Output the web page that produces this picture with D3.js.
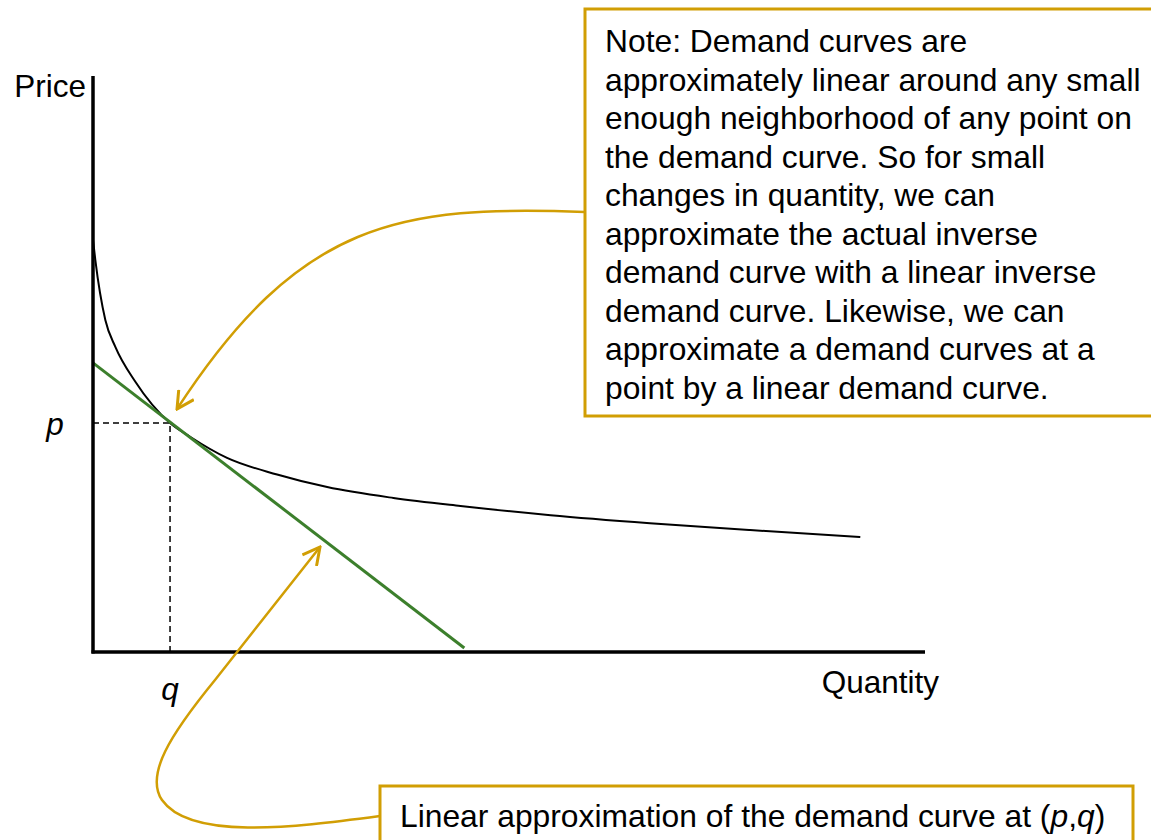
<!DOCTYPE html>
<html>
<head>
<meta charset="utf-8">
<script src="https://cdn.jsdelivr.net/npm/d3@7"></script>
<style>
  body { margin: 0; background: #fff; }
  svg text { font-family: "Liberation Sans", Arial, sans-serif; fill: #000; }
</style>
</head>
<body>
<div id="chart"></div>
<script>
var w = 1151; var h = 840;

// inverse demand curve (quantity, price)
var demandQ = [0, 0.03, 0.16, 0.29, 0.55, 1, 1.26, 1.74, 2.39, 3.04, 3.9, 4.77, 5.94, 7.23, 8.53, 9.96];
var demandP = [7.2, 6.85, 5.8, 5.33, 4.72, 4.0, 3.76, 3.39, 3.1, 2.88, 2.69, 2.55, 2.39, 2.25, 2.13, 2.01];

// tangent (linear approximation) end points
var lineQ = [0, 4.82];
var lineP = [5.05, 0.07];

// the point (q, p)
var pointQ = 1;
var pointP = 4;

var axisMaxQ = 10.8;
var axisMaxP = 10.06;

var noteLines = [
	'Note: Demand curves are',
	'approximately linear around any small',
	'enough neighborhood of any point on',
	'the demand curve. So for small',
	'changes in quantity, we can',
	'approximate the actual inverse',
	'demand curve with a linear inverse',
	'demand curve. Likewise, we can',
	'approximate a demand curves at a',
	'point by a linear demand curve.'
];

var gold = '#D19E04';
var green = '#3C7F2C';

var svg = d3.select('#chart')
			.append('svg')
			.attr('width', w)
			.attr('height', h);

var x = d3.scaleLinear().domain([0, axisMaxQ]).range([93, 925]);
var y = d3.scaleLinear().domain([0, axisMaxP]).range([652, 76]);

var defs = svg.append('defs');
defs.append('marker')
	.attr('id', 'vhead')
	.attr('viewBox', '-20 -10 22 20')
	.attr('refX', 0)
	.attr('refY', 0)
	.attr('markerWidth', 22)
	.attr('markerHeight', 20)
	.attr('markerUnits', 'userSpaceOnUse')
	.attr('orient', 'auto')
	.append('path')
	.attr('d', 'M-17,-9 L0,0 L-17,9')
	.attr('fill', 'none')
	.attr('stroke', gold)
	.attr('stroke-width', 3)
	.attr('stroke-linejoin', 'miter');

// dashed guides to the point
svg.append('path')
	.attr('d', 'M' + x(0) + ',' + y(pointP) + 'H' + x(pointQ) + 'V' + y(0))
	.attr('fill', 'none')
	.attr('stroke', '#000')
	.attr('stroke-width', 1.5)
	.attr('stroke-dasharray', '6,4');

// demand curve
var demand = demandQ.map(function(q, i) { return [q, demandP[i]]; });
var curveLine = d3.line()
				.x(function(d) { return x(d[0]); })
				.y(function(d) { return y(d[1]); })
				.curve(d3.curveMonotoneX);

svg.append('path')
	.attr('d', curveLine(demand))
	.attr('fill', 'none')
	.attr('stroke', '#000')
	.attr('stroke-width', 2);

// linear approximation
var tangent = lineQ.map(function(q, i) { return [q, lineP[i]]; });
svg.append('path')
	.attr('d', d3.line().x(function(d) { return x(d[0]); }).y(function(d) { return y(d[1]); })(tangent))
	.attr('fill', 'none')
	.attr('stroke', green)
	.attr('stroke-width', 3);

// axes
svg.append('line')
	.attr('x1', x(0)).attr('y1', y(0) + 1.5)
	.attr('x2', x(0)).attr('y2', y(axisMaxP))
	.attr('stroke', '#000').attr('stroke-width', 3.5);
svg.append('line')
	.attr('x1', x(0) - 1.5).attr('y1', y(0))
	.attr('x2', x(axisMaxQ)).attr('y2', y(0))
	.attr('stroke', '#000').attr('stroke-width', 3.5);

svg.append('text').attr('x', 86).attr('y', 97).attr('text-anchor', 'end')
	.style('font-size', '31.5px').text('Price');
svg.append('text').attr('x', 939).attr('y', 693).attr('text-anchor', 'end')
	.style('font-size', '31.5px').text('Quantity');
svg.append('text').attr('x', 55).attr('y', 435).attr('text-anchor', 'middle')
	.style('font-size', '31.5px').style('font-style', 'italic').text('p');
svg.append('text').attr('x', x(pointQ)).attr('y', 700).attr('text-anchor', 'middle')
	.style('font-size', '31.5px').style('font-style', 'italic').text('q');

// note box
svg.append('rect')
	.attr('x', 585).attr('y', 9)
	.attr('width', 580).attr('height', 407)
	.attr('fill', '#fff')
	.attr('stroke', gold).attr('stroke-width', 3);

var note = svg.append('text').style('font-size', '31.8px');
noteLines.forEach(function(t, i) {
	note.append('tspan').attr('x', 605).attr('y', 52 + i * 38.5).text(t);
});

// second box
svg.append('rect')
	.attr('x', 380).attr('y', 786)
	.attr('width', 753).attr('height', 80)
	.attr('fill', '#fff')
	.attr('stroke', gold).attr('stroke-width', 3);

var lab = svg.append('text').attr('x', 400).attr('y', 827).style('font-size', '31.8px');
lab.append('tspan').text('Linear approximation of the demand curve at (');
lab.append('tspan').style('font-style', 'italic').text('p');
lab.append('tspan').text(',');
lab.append('tspan').style('font-style', 'italic').text('q');
lab.append('tspan').text(')');

// callout arrows
svg.append('path')
	.attr('d', 'M585,212 C400,205 300,220 177,409')
	.attr('fill', 'none')
	.attr('stroke', gold)
	.attr('stroke-width', 2.5)
	.attr('marker-end', 'url(#vhead)');

svg.append('path')
	.attr('d', 'M380,816 C290,828 190,840 162,800 C145,775 170,735 215,680 L320,547')
	.attr('fill', 'none')
	.attr('stroke', gold)
	.attr('stroke-width', 2.5)
	.attr('marker-end', 'url(#vhead)');
</script>
</body>
</html>
